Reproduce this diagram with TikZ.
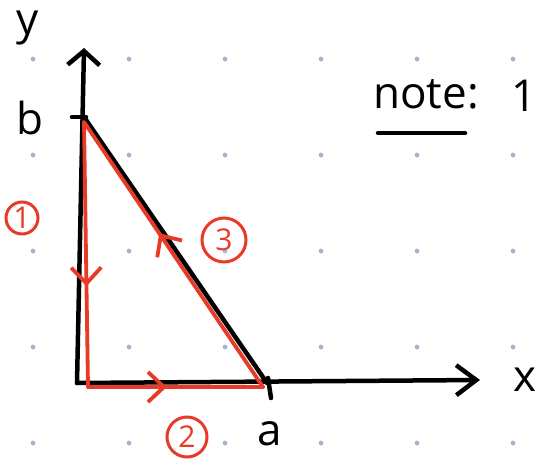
\documentclass[tikz,border=0pt]{standalone}
\usepackage{fontspec}
\setmainfont{Open Sans}
\usetikzlibrary{arrows.meta,decorations.markings}
\definecolor{penred}{RGB}{232,58,40}
\definecolor{dotblue}{RGB}{165,182,212}
\tikzset{
  pen/.style={line width=4.5pt, line cap=round, line join=round, black},
  redpen/.style={line width=3.8pt, line cap=round, line join=round, penred},
  hand/.style={font=\fontsize{44}{50}\selectfont, inner sep=0pt},
  circnum/.style={draw=penred, circle, line width=3pt, text=penred,
    font=\fontsize{30}{34}\selectfont, inner sep=0pt},
  midarrow/.style={postaction={decorate}, decoration={markings,
    mark=at position #1 with {\arrow{Straight Barb[length=16pt, width=30pt]}}}},
}
\begin{document}
\begin{tikzpicture}[x=1pt, y=-1pt]
  \useasboundingbox (0,0) rectangle (538,462);
  % dot grid
  \foreach \i in {0,...,5}
    \foreach \j in {0,...,4}
      \fill[dotblue] (33+96*\i, 59+96*\j) circle (2.4);

  % points
  \coordinate (O) at (77,383);
  \coordinate (B) at (84,117);
  \coordinate (A) at (267,383);
  \coordinate (ytip) at (84,48);
  \coordinate (xtip) at (480,380);

  % axes and triangle
  \draw[pen, -{Straight Barb[length=14pt, width=32pt]}] (O) -- (ytip);
  \draw[pen, -{Straight Barb[length=20pt, width=30pt]}] (O) -- (xtip);
  \draw[pen] (B) -- (A);
  \draw[pen] (72,117) -- (86,117);
  \draw[pen] (268,378) -- (271,398);

  % red path
  \coordinate (rB) at (84,122);
  \coordinate (rO) at (88,387);
  \coordinate (rA) at (263,387);
  \draw[redpen, midarrow=0.62] (rB) -- (rO);
  \draw[redpen, midarrow=0.45] (rO) -- (rA);
  \draw[redpen, midarrow=0.58] (rA) -- (rB);

  % labels
  \node[hand] (ylbl) at (28,28) {y};
  \node[hand] (blbl) at (30,118) {b};
  \node[hand] (albl) at (270,434) {a};
  \node[hand] (xlbl) at (525,380) {x};
  \node[hand] (notelbl) at (426,94) {note:};
  \node[hand] (onelbl) at (524,96) {1};
  \draw[pen] (378,133) -- (465,133);

  \node[circnum, minimum size=32pt] (c1) at (22,218) {1};
  \node[circnum, minimum size=44pt] (c3) at (224,240) {3};
  \node[circnum, minimum size=40pt] (c2) at (187,437) {2};
\end{tikzpicture}
\end{document}
